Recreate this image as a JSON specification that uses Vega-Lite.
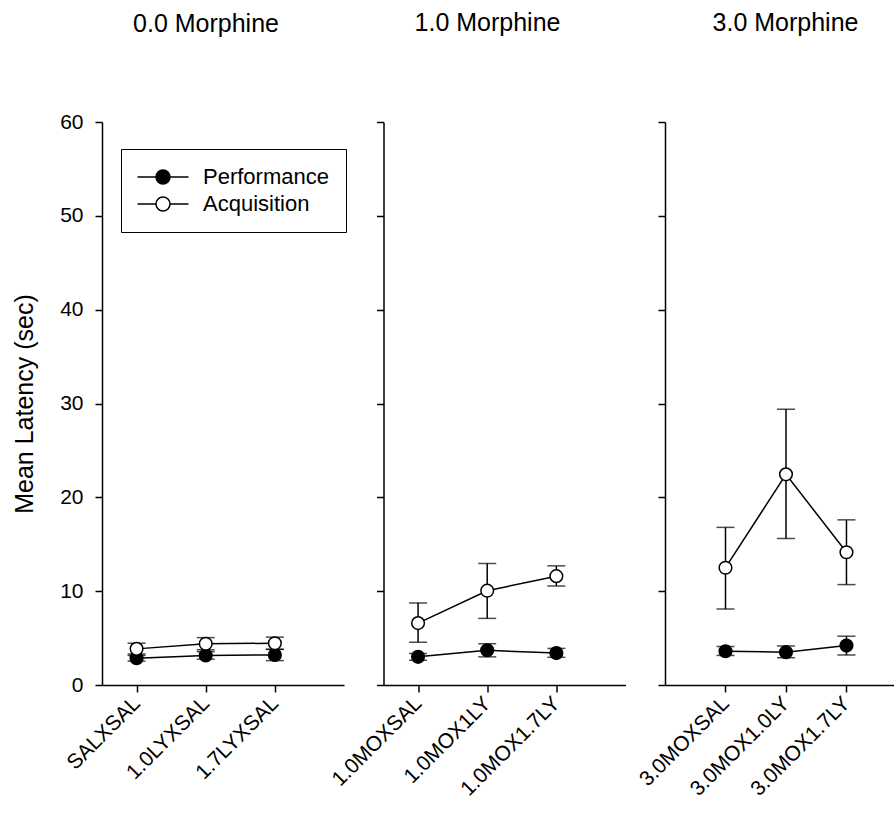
{
  "$schema": "https://vega.github.io/schema/vega-lite/v6.json",
  "padding": {"left": 12, "top": 11, "right": 0, "bottom": 0},
  "background": "white",
  "data": {"values": [
    {"panel": 0, "group": "SALXSAL", "series": "Performance", "mean": 2.85, "lo": 2.55, "hi": 3.15},
    {"panel": 0, "group": "1.0LYXSAL", "series": "Performance", "mean": 3.15, "lo": 2.75, "hi": 3.55},
    {"panel": 0, "group": "1.7LYXSAL", "series": "Performance", "mean": 3.2, "lo": 2.6, "hi": 3.8},
    {"panel": 0, "group": "SALXSAL", "series": "Acquisition", "mean": 3.85, "lo": 3.3, "hi": 4.45},
    {"panel": 0, "group": "1.0LYXSAL", "series": "Acquisition", "mean": 4.4, "lo": 3.75, "hi": 5.05},
    {"panel": 0, "group": "1.7LYXSAL", "series": "Acquisition", "mean": 4.45, "lo": 3.8, "hi": 5.1},
    {"panel": 1, "group": "1.0MOXSAL", "series": "Performance", "mean": 3.0, "lo": 2.65, "hi": 3.35},
    {"panel": 1, "group": "1.0MOX1LY", "series": "Performance", "mean": 3.7, "lo": 3.0, "hi": 4.4},
    {"panel": 1, "group": "1.0MOX1.7LY", "series": "Performance", "mean": 3.4, "lo": 2.95, "hi": 3.9},
    {"panel": 1, "group": "1.0MOXSAL", "series": "Acquisition", "mean": 6.6, "lo": 4.55, "hi": 8.75},
    {"panel": 1, "group": "1.0MOX1LY", "series": "Acquisition", "mean": 10.05, "lo": 7.1, "hi": 12.95},
    {"panel": 1, "group": "1.0MOX1.7LY", "series": "Acquisition", "mean": 11.6, "lo": 10.55, "hi": 12.7},
    {"panel": 2, "group": "3.0MOXSAL", "series": "Performance", "mean": 3.6, "lo": 3.15, "hi": 4.1},
    {"panel": 2, "group": "3.0MOX1.0LY", "series": "Performance", "mean": 3.5, "lo": 2.9, "hi": 4.15},
    {"panel": 2, "group": "3.0MOX1.7LY", "series": "Performance", "mean": 4.2, "lo": 3.2, "hi": 5.2},
    {"panel": 2, "group": "3.0MOXSAL", "series": "Acquisition", "mean": 12.5, "lo": 8.1, "hi": 16.8},
    {"panel": 2, "group": "3.0MOX1.0LY", "series": "Acquisition", "mean": 22.45, "lo": 15.6, "hi": 29.4},
    {"panel": 2, "group": "3.0MOX1.7LY", "series": "Acquisition", "mean": 14.15, "lo": 10.7, "hi": 17.6}
  ]},
  "spacing": 39.5,
  "bounds": "flush",
  "resolve": {"scale": {"fill": "independent", "x": "independent", "y": "independent"}, "legend": {"fill": "independent"}},
  "hconcat": [
    {
      "width": 242, "height": 563,
      "title": {"text": "0.0 Morphine", "dx": -17, "offset": 74},
      "transform": [{"filter": "datum.panel == 0"}],
      "encoding": {"x": {"field": "group", "type": "nominal", "sort": null, "scale": {"type": "point", "padding": 0.75, "align": 0.3333}, "axis": {"title": null}}},
      "layer": [
        {"mark": {"type": "rule", "color": "black", "strokeWidth": 1.5},
         "encoding": {"y": {"field": "lo", "type": "quantitative", "scale": {"domain": [0, 60], "nice": false}, "axis": {"title": "Mean Latency (sec)", "values": [0, 10, 20, 30, 40, 50, 60], "titlePadding": 22, "labelPadding": 12}}, "y2": {"field": "hi"}}},
        {"mark": {"type": "tick", "color": "black", "size": 18, "thickness": 1.5}, "encoding": {"y": {"field": "lo", "type": "quantitative"}}},
        {"mark": {"type": "tick", "color": "black", "size": 18, "thickness": 1.5}, "encoding": {"y": {"field": "hi", "type": "quantitative"}}},
        {"mark": {"type": "line", "color": "black", "strokeWidth": 1.5}, "encoding": {"y": {"field": "mean", "type": "quantitative"}, "detail": {"field": "series"}}},
        {"mark": {"type": "point", "filled": true, "stroke": "black", "strokeWidth": 1.5, "size": 160, "opacity": 1},
         "encoding": {"y": {"field": "mean", "type": "quantitative"},
           "fill": {"field": "series", "type": "nominal", "scale": {"domain": ["Performance", "Acquisition"], "range": ["black", "white"]},
             "legend": {"title": null, "orient": "none", "legendX": 19, "legendY": 27, "strokeColor": "black", "padding": 17, "rowPadding": 5, "labelFontSize": 22, "labelOffset": 29, "labelColor": "black", "symbolOffset": 14,
               "symbolType": "M-3.64,0L-1,0M1,0L3.64,0M1,0A1,1,0,1,1,-1,0A1,1,0,1,1,1,0Z", "symbolSize": 196, "symbolStrokeColor": "black", "symbolStrokeWidth": 1.5}}}}
      ]
    },
    {
      "width": 242, "height": 563,
      "title": {"text": "1.0 Morphine", "dx": -17, "offset": 85},
      "transform": [{"filter": "datum.panel == 1"}],
      "encoding": {"x": {"field": "group", "type": "nominal", "sort": null, "scale": {"type": "point", "padding": 0.75, "align": 0.3333}, "axis": {"title": null}}},
      "layer": [
        {"mark": {"type": "rule", "color": "black", "strokeWidth": 1.5},
         "encoding": {"y": {"field": "lo", "type": "quantitative", "scale": {"domain": [0, 60], "nice": false}, "axis": {"title": null, "labels": false, "values": [0, 10, 20, 30, 40, 50, 60]}}, "y2": {"field": "hi"}}},
        {"mark": {"type": "tick", "color": "black", "size": 18, "thickness": 1.5}, "encoding": {"y": {"field": "lo", "type": "quantitative"}}},
        {"mark": {"type": "tick", "color": "black", "size": 18, "thickness": 1.5}, "encoding": {"y": {"field": "hi", "type": "quantitative"}}},
        {"mark": {"type": "line", "color": "black", "strokeWidth": 1.5}, "encoding": {"y": {"field": "mean", "type": "quantitative"}, "detail": {"field": "series"}}},
        {"mark": {"type": "point", "filled": true, "stroke": "black", "strokeWidth": 1.5, "size": 160, "opacity": 1},
         "encoding": {"y": {"field": "mean", "type": "quantitative"},
           "fill": {"field": "series", "type": "nominal", "scale": {"domain": ["Performance", "Acquisition"], "range": ["black", "white"]}, "legend": null}}}
      ]
    },
    {
      "width": 229, "height": 563,
      "title": {"text": "3.0 Morphine", "dx": 6, "offset": 85},
      "transform": [{"filter": "datum.panel == 2"}],
      "encoding": {"x": {"field": "group", "type": "nominal", "sort": null, "scale": {"type": "point", "padding": 0.893, "align": 0.56}, "axis": {"title": null}}},
      "layer": [
        {"mark": {"type": "rule", "color": "black", "strokeWidth": 1.5},
         "encoding": {"y": {"field": "lo", "type": "quantitative", "scale": {"domain": [0, 60], "nice": false}, "axis": {"title": null, "labels": false, "values": [0, 10, 20, 30, 40, 50, 60]}}, "y2": {"field": "hi"}}},
        {"mark": {"type": "tick", "color": "black", "size": 18, "thickness": 1.5}, "encoding": {"y": {"field": "lo", "type": "quantitative"}}},
        {"mark": {"type": "tick", "color": "black", "size": 18, "thickness": 1.5}, "encoding": {"y": {"field": "hi", "type": "quantitative"}}},
        {"mark": {"type": "line", "color": "black", "strokeWidth": 1.5}, "encoding": {"y": {"field": "mean", "type": "quantitative"}, "detail": {"field": "series"}}},
        {"mark": {"type": "point", "filled": true, "stroke": "black", "strokeWidth": 1.5, "size": 160, "opacity": 1},
         "encoding": {"y": {"field": "mean", "type": "quantitative"},
           "fill": {"field": "series", "type": "nominal", "scale": {"domain": ["Performance", "Acquisition"], "range": ["black", "white"]}, "legend": null}}}
      ]
    }
  ],
  "config": {
    "font": "Liberation Sans",
    "view": {"stroke": null},
    "title": {"fontSize": 25, "fontWeight": "normal", "color": "black", "anchor": "middle", "baseline": "alphabetic", "font": "Liberation Sans"},
    "axis": {"grid": false, "domainColor": "black", "domainWidth": 1.5, "tickColor": "black", "tickWidth": 1.5, "tickSize": 7, "labelColor": "black", "labelFontSize": 21, "titleFontSize": 25, "titleFontWeight": "normal", "titleColor": "black", "labelFont": "Liberation Sans", "titleFont": "Liberation Sans"},
    "axisX": {"labelAngle": -45, "labelPadding": 8, "labelAlign": "right", "labelBaseline": "middle"},
    "legend": {"labelFont": "Liberation Sans"}
  }
}
